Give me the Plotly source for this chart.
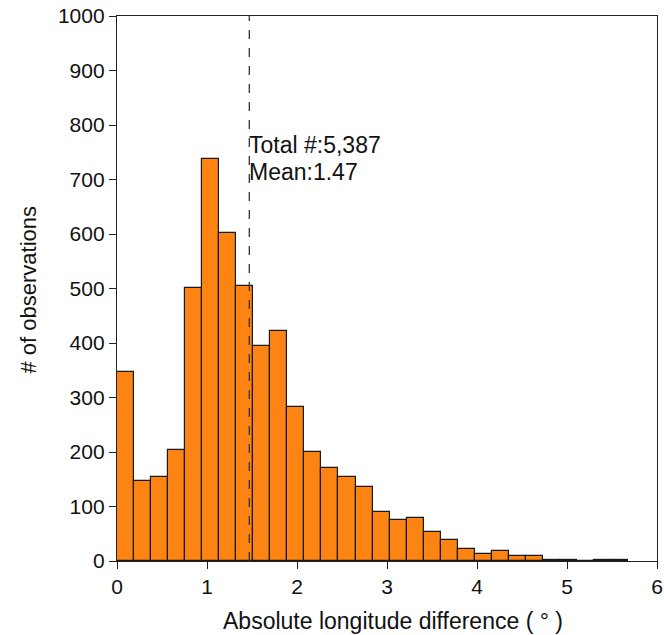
import numpy as np
import plotly.graph_objects as go

# Histogram data (30 bins from 0 to max)
bin_start = 0.0
bin_width = 0.1893
counts = [346, 146, 154, 204, 501, 737, 602, 505, 394, 422,
          283, 200, 171, 155, 135, 90, 75, 79, 53, 39,
          22, 12, 19, 9, 9, 2, 1, 0, 1, 1]
mean_value = 1.47
total_label = "Total #:5,387"
mean_label = "Mean:1.47"
x_title = "Absolute longitude difference ( ° )"
y_title = "# of observations"
x_ticks = [0, 1, 2, 3, 4, 5, 6]
y_ticks = [0, 100, 200, 300, 400, 500, 600, 700, 800, 900, 1000]

centers = [bin_start + bin_width * (i + 0.5) for i in range(len(counts))]

font_family = "Liberation Sans, Arial, sans-serif"

fig = go.Figure()
fig.add_trace(go.Bar(
    x=centers, y=counts, width=[bin_width] * len(counts),
    marker=dict(color="#fd8413", line=dict(color="#1a1a1a", width=1.2)),
    showlegend=False,
))

fig.add_shape(type="line", x0=mean_value, x1=mean_value, y0=0, y1=1000,
              xref="x", yref="y",
              line=dict(color="#333333", width=1.3, dash="dash"))

fig.add_annotation(x=mean_value, y=763, xref="x", yref="y", text=total_label,
                   showarrow=False, xanchor="left", yanchor="middle", xshift=-2,
                   font=dict(family=font_family, size=23, color="#111111"))
fig.add_annotation(x=mean_value, y=713, xref="x", yref="y", text=mean_label,
                   showarrow=False, xanchor="left", yanchor="middle", xshift=-2,
                   font=dict(family=font_family, size=23, color="#111111"))

# axis titles
fig.add_annotation(x=0.5, y=0, xref="paper", yref="paper", text=x_title,
                   showarrow=False, xanchor="center", yanchor="middle",
                   xshift=6, yshift=-60,
                   font=dict(family=font_family, size=23, color="#111111"))
fig.add_annotation(x=0, y=0.5, xref="paper", yref="paper", text=y_title,
                   showarrow=False, xanchor="center", yanchor="middle",
                   textangle=-90, xshift=-89, yshift=-1,
                   font=dict(family=font_family, size=22, color="#111111"))

axis_common = dict(
    showline=True, linecolor="#222222", linewidth=1.3, mirror=True,
    ticks="outside", ticklen=7, tickwidth=1.3, tickcolor="#222222",
    showgrid=False, zeroline=False, ticklabeloverflow="allow",
    automargin=False,
    tickfont=dict(family=font_family, size=21, color="#111111"),
)

fig.update_layout(
    width=664, height=635,
    margin=dict(l=117, r=7, t=16, b=74),
    paper_bgcolor="white", plot_bgcolor="white",
    bargap=0,
    xaxis=dict(range=[0, 6], tickvals=x_ticks, **axis_common),
    yaxis=dict(range=[0, 1000], tickvals=y_ticks, **axis_common),
)

fig.write_html("out.html",
               config={"displayModeBar": False},
               post_script="document.body.style.margin='0';document.body.style.overflow='hidden';")
